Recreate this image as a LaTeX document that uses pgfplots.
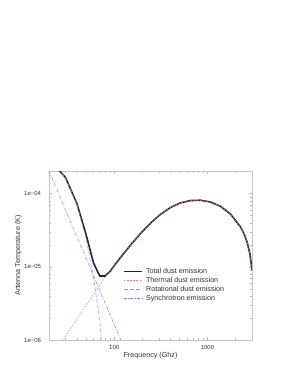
\documentclass[border=0pt]{standalone}
\usepackage{fontspec}
\setmainfont{Liberation Sans}
\usepackage{pgfplots}
\pgfplotsset{compat=1.18}
\definecolor{thermc}{RGB}{255,110,110}
\definecolor{rotc}{RGB}{200,110,240}
\definecolor{syncc}{RGB}{120,120,255}
\begin{document}
\begin{tikzpicture}
\path[use as bounding box] (0,0) rectangle (295bp,382bp);
\begin{axis}[
  at={(49bp,42bp)}, anchor=south west, scale only axis,
  width=203bp, height=169bp,
  xmode=log, ymode=log, log basis x=10, log basis y=10,
  xmin=20, xmax=3000, ymin=1e-6, ymax=2.04e-4,
  axis line style={gray!45},
  tick align=inside, major tick length=3bp, minor tick length=1.6bp,
  every tick/.style={gray!55, line width=0.4bp},
  xtick={100,1000}, xticklabels={100,1000},
  minor xtick={20,30,40,50,60,70,80,90,200,300,400,500,600,700,800,900,2000,3000},
  ytick={1e-6,1e-5,1e-4}, yticklabels={1e−06,1e−05,1e−04},
  minor ytick={2e-6,3e-6,4e-6,5e-6,6e-6,7e-6,8e-6,9e-6,2e-5,3e-5,4e-5,5e-5,6e-5,7e-5,8e-5,9e-5,2e-4},
  tick label style={font=\fontsize{6}{7}\selectfont, text=black!80},
  xticklabel style={yshift=-2bp},
  yticklabel style={xshift=-4.5bp},
  xlabel={Frequency (Ghz)}, ylabel={Antenna Temperature (K)},
  every axis x label/.style={at={(axis description cs:0.5,-0.093)}, anchor=center, font=\fontsize{7.2}{8}\selectfont, text=black!80},
  every axis y label/.style={at={(axis description cs:-0.151,0.5)}, anchor=center, rotate=90, font=\fontsize{7.2}{8}\selectfont, text=black!80},
  legend cell align=left,
  legend style={draw=none, fill=none, at={(axis description cs:0.363,0.432)}, anchor=north west,
    inner sep=0pt, font=\fontsize{7.2}{8}\selectfont, text=black!80,
    nodes={inner sep=0pt, text height=6.2bp, text depth=2.7bp},
    /tikz/every odd column/.append style={column sep=3.6bp}},
  legend image code/.code={\draw[#1] (0bp,0bp) -- (18bp,0bp);},
]
\addplot[black!85, line width=1.6bp] coordinates {
(20,2.9e-4) (30,1.67e-4) (40,7.2e-5) (50,2.75e-5) (60,1.13e-5) (70,7.5e-6) (80,7.5e-6)
(90,8.63e-6) (100,1.035e-5) (115,1.306e-5) (147.6,1.94e-5) (189.2,2.81e-5)
(242.7,3.91e-5) (311.2,5.18e-5) (399,6.44e-5) (511.7,7.48e-5) (656,8.05e-5) (839.5,8.13e-5)
(1076,7.69e-5) (1380,6.71e-5) (1770,5.24e-5) (2270,3.48e-5) (2512,2.68e-5) (2679,2.1e-5) (2851,1.5e-5) (3000,9.0e-6)};
\addlegendentry{Total dust emission}
\addplot[thermc, line width=0.5bp, dash pattern=on 1.8bp off 1.4bp] coordinates {
(25,7.95e-7) (30,1.125e-6) (40,1.94e-6) (50,2.97e-6) (60,4.2e-6) (70,5.6e-6) (80,7.25e-6)
(90,8.63e-6) (100,1.035e-5) (115,1.306e-5) (147.6,1.94e-5) (189.2,2.81e-5)
(242.7,3.91e-5) (311.2,5.18e-5) (399,6.44e-5) (511.7,7.48e-5) (656,8.05e-5) (839.5,8.13e-5)
(1076,7.69e-5) (1380,6.71e-5) (1770,5.24e-5) (2270,3.48e-5) (2512,2.68e-5) (2679,2.1e-5) (2851,1.5e-5) (3000,9.0e-6)};
\addlegendentry{Thermal dust emission}
\addplot[rotc, line width=0.5bp, dash pattern=on 4bp off 2bp] coordinates {
(20,2.9e-4) (30,1.66e-4) (40,7.0e-5) (50,2.45e-5) (60,7.1e-6) (70,1.9e-6) (80,2.5e-7)};
\addlegendentry{Rotational dust emission}
\addplot[syncc, line width=0.5bp, dash pattern=on 3bp off 1.5bp on 0.7bp off 1.5bp] coordinates {
(20,2.04e-4) (30,6.04e-5) (50,1.306e-5) (80,3.19e-6) (120,9.44e-7) (150,4.84e-7)};
\addlegendentry{Synchrotron emission}
\end{axis}
\end{tikzpicture}
\end{document}
